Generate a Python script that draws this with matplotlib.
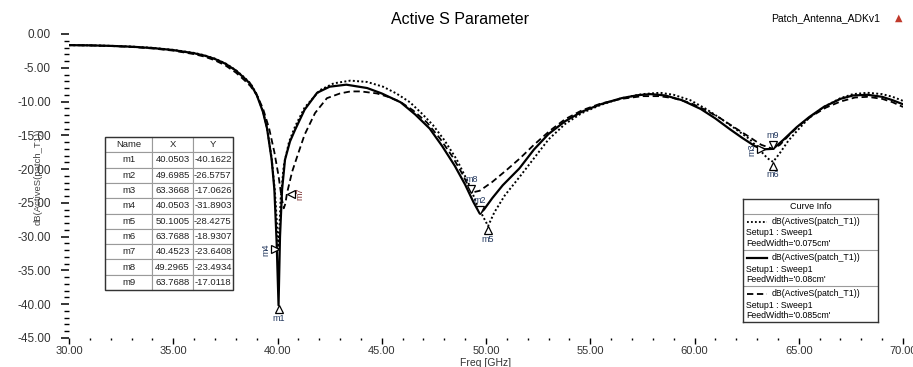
import matplotlib
matplotlib.use('Agg')
import matplotlib.pyplot as plt
from matplotlib.ticker import MultipleLocator, FuncFormatter
from matplotlib.transforms import ScaledTranslation

plt.rcParams['font.family'] = ['Liberation Sans', 'DejaVu Sans']

# dB(ActiveS(patch_T1)) sweeps, one per feed width
freq_075 = [30.0, 31.0, 32.0, 33.0, 34.0, 35.0, 36.0, 36.5, 37.0, 37.5, 38.0, 38.4, 38.7, 39.0,
            39.3, 39.5, 39.72, 39.88, 40.05, 40.15, 40.3, 40.55, 40.84, 41.3, 42.04, 42.7, 43.5,
            44.3, 45.06, 45.7, 46.35, 46.9, 47.46, 48.0, 48.6, 49.15, 49.6, 50.1, 50.4, 50.9,
            51.6, 52.3, 53.0, 53.8, 54.6, 55.5, 56.5, 57.5, 58.35, 59.0, 59.8, 60.5, 61.2, 61.9,
            62.66, 63.14, 63.5, 63.77, 64.1, 64.5, 64.9, 65.5, 66.2, 67.0, 67.6, 68.3, 69.0,
            69.5, 70.0]
db_075 = [-1.65, -1.68, -1.75, -1.86, -2.05, -2.35, -2.8, -3.15, -3.65, -4.35, -5.35, -6.4,
          -7.3, -8.9, -11.4, -13.9, -18.4, -23.5, -31.89, -24.5, -19.5, -16.0, -13.7, -10.9,
          -8.3, -7.3, -6.9, -7.1, -7.8, -8.8, -10.1, -11.7, -13.5, -15.7, -18.6, -22.0, -25.5,
          -28.43, -26.4, -23.9, -21.2, -18.4, -15.6, -13.3, -11.7, -10.5, -9.5, -8.9, -8.7,
          -9.0, -9.8, -11.0, -12.4, -13.9, -15.6, -17.2, -18.4, -18.93, -17.6, -15.8, -14.4,
          -12.4, -10.8, -9.5, -8.9, -8.7, -8.9, -9.3, -9.9]

freq_080 = [30.0, 31.0, 32.0, 33.0, 34.0, 35.0, 36.0, 36.5, 37.0, 37.5, 38.0, 38.4, 38.7, 39.0,
            39.3, 39.5, 39.72, 39.85, 39.96, 40.05, 40.12, 40.22, 40.36, 40.6, 40.84, 41.3,
            41.9, 42.5, 43.3, 44.3, 45.0, 45.9, 46.6, 47.3, 47.9, 48.5, 49.0, 49.4, 49.7, 49.9,
            50.3, 50.8, 51.6, 52.3, 53.0, 53.8, 54.6, 55.5, 56.5, 57.3, 57.9, 58.6, 59.4, 60.3,
            61.0, 61.7, 62.3, 62.9, 63.37, 63.77, 64.25, 64.9, 65.5, 66.2, 67.0, 67.6, 68.3,
            69.0, 69.5, 70.0]
db_080 = [-1.65, -1.68, -1.76, -1.88, -2.08, -2.38, -2.85, -3.2, -3.7, -4.4, -5.4, -6.5, -7.4,
          -9.0, -11.5, -14.0, -18.6, -23.0, -30.9, -40.16, -30.0, -23.0, -18.6, -15.9, -14.2,
          -11.2, -8.7, -7.8, -7.5, -8.0, -8.8, -10.1, -11.9, -14.0, -16.6, -19.5, -22.3, -24.9,
          -26.58, -26.0, -24.3, -22.4, -19.9, -17.1, -14.8, -12.9, -11.5, -10.4, -9.5, -9.05,
          -8.9, -9.1, -9.8, -11.1, -12.5, -14.1, -15.4, -16.6, -17.06, -17.0, -15.7, -13.8,
          -12.3, -10.8, -9.6, -9.1, -9.0, -9.3, -9.8, -10.4]

freq_085 = [30.0, 31.0, 32.0, 33.0, 34.0, 35.0, 36.0, 36.5, 37.0, 37.5, 38.0, 38.4, 38.7, 39.0,
            39.3, 39.6, 39.85, 40.05, 40.2, 40.3, 40.38, 40.45, 40.7, 40.98, 41.3, 41.8, 42.37,
            43.0, 43.5, 44.0, 44.77, 45.3, 45.87, 46.5, 47.17, 47.8, 48.4, 48.9, 49.3, 49.7,
            50.3, 51.0, 51.63, 52.3, 53.07, 53.8, 54.6, 55.5, 56.5, 57.5, 58.3, 59.0, 59.8,
            60.5, 61.2, 61.9, 62.66, 63.2, 63.77, 64.1, 64.5, 65.0, 65.6, 66.3, 67.0, 67.7,
            68.3, 69.0, 69.5, 70.0]
db_085 = [-1.65, -1.69, -1.78, -1.92, -2.14, -2.46, -2.98, -3.35, -3.9, -4.65, -5.7, -6.8,
          -7.7, -9.0, -11.0, -14.0, -17.5, -21.0, -24.3, -25.8, -25.1, -23.64, -20.4, -17.8,
          -14.9, -11.7, -9.5, -8.8, -8.5, -8.5, -8.8, -9.3, -10.0, -11.3, -13.1, -15.5, -18.2,
          -20.9, -23.49, -23.2, -21.9, -20.1, -18.4, -16.4, -14.3, -12.6, -11.3, -10.3, -9.6,
          -9.2, -9.2, -9.5, -10.2, -11.2, -12.4, -13.8, -15.3, -16.4, -17.01, -16.4, -15.1,
          -13.6, -12.2, -10.9, -10.0, -9.4, -9.3, -9.6, -10.1, -10.8]

feed_widths = ["0.075cm", "0.08cm", "0.085cm"]

# marker table
marker_names = ['m1', 'm2', 'm3', 'm4', 'm5', 'm6', 'm7', 'm8', 'm9']
marker_freq = [40.0503, 49.6985, 63.3668, 40.0503, 50.1005, 63.7688, 40.4523, 49.2965, 63.7688]
marker_db = [-40.1622, -26.5757, -17.0626, -31.8903, -28.4275, -18.9307, -23.6408, -23.4934, -17.0118]

# symbol, label offset direction and label rotation for each marker
marker_style = {
    'm1': ('^', 0, -1, 0), 'm2': ('v', 0, 1, 0), 'm3': ('>', -1, 0, 90),
    'm4': ('>', -1, 0, 90), 'm5': ('^', 0, -1, 0), 'm6': ('^', 0, -1, 0),
    'm7': ('<', 1, 0, 90), 'm8': ('v', 0, 1, 0), 'm9': ('v', 0, 1, 0),
}

W, H = 913, 367
fig = plt.figure(figsize=(W / 100, H / 100), dpi=100)

def px_box(x0, y0, x1, y1):
    return [x0 / W, 1 - y1 / H, (x1 - x0) / W, (y1 - y0) / H]

ax = fig.add_axes(px_box(69, 34, 903, 338))

ax.plot(freq_075, db_075, color='black', lw=1.4, linestyle=(0, (1, 1.2)))
ax.plot(freq_080, db_080, color='black', lw=1.6, linestyle='-')
ax.plot(freq_085, db_085, color='black', lw=1.3, linestyle=(0, (3.5, 2)))

ax.set_xlim(30, 70)
ax.set_ylim(-45, 0)
for s in ax.spines.values():
    s.set_visible(False)

ax.xaxis.set_major_locator(MultipleLocator(5))
ax.xaxis.set_minor_locator(MultipleLocator(1))
ax.yaxis.set_major_locator(MultipleLocator(5))
ax.yaxis.set_minor_locator(MultipleLocator(1))
fmt = FuncFormatter(lambda v, _: f"{0.0 if abs(v) < 1e-9 else v:.2f}")
ax.xaxis.set_major_formatter(fmt)
ax.yaxis.set_major_formatter(fmt)

ax.tick_params(axis='y', which='major', direction='out', length=6, width=1.1, pad=7,
               labelsize=8.5, labelcolor='#333333')
ax.tick_params(axis='y', which='minor', direction='out', length=3.5, width=1.0)
ax.tick_params(axis='x', which='major', direction='out', length=4, width=1.0, pad=2,
               labelsize=8, labelcolor='#333333')
ax.tick_params(axis='x', which='minor', direction='out', length=1.5, width=1.0)

ax.set_xlabel('Freq [GHz]', fontsize=7.5, color='#333333', labelpad=1)
ax.set_ylabel('dB(ActiveS(patch_T1))', fontsize=6.8, color='#444444')
ax.yaxis.set_label_coords(-0.032, 0.53)

# markers on the traces
for name, mx, my in zip(marker_names, marker_freq, marker_db):
    sym, ddx, ddy, rot = marker_style[name]
    off = ScaledTranslation(ddx * 4 / 100, ddy * 4 / 100, fig.dpi_scale_trans)
    ax.plot([mx], [my], marker=sym, ms=6, mfc='white', mec='black', mew=0.9,
            transform=ax.transData + off, zorder=5)
    color = '#7a2e2e' if name == 'm7' else '#23385e'
    ax.annotate(name, (mx, my), xytext=(ddx * 13, ddy * 13), textcoords='offset pixels',
                ha='center', va='center', fontsize=6.5, color=color, rotation=rot, zorder=6)

fig.text(460 / W, 1 - 19 / H, 'Active S Parameter', ha='center', va='center', fontsize=11.5)
fig.text(880 / W, 1 - 18 / H, 'Patch_Antenna_ADKv1', ha='right', va='center', fontsize=7.5)
fig.text(899 / W, 1 - 18 / H, '\u25b2', ha='center', va='center', fontsize=7,
         color='#c0392b', family='DejaVu Sans')

# marker table
tax = fig.add_axes(px_box(105, 137, 233, 290))
tax.axis('off')
rows = [[n, f"{x:.4f}", f"{y:.4f}"] for n, x, y in zip(marker_names, marker_freq, marker_db)]
tbl = tax.table(cellText=rows, colLabels=['Name', 'X', 'Y'], cellLoc='center',
                colWidths=[0.37, 0.315, 0.315], bbox=[0, 0, 1, 1])
tbl.auto_set_font_size(False)
tbl.set_fontsize(6.8)
for cell in tbl.get_celld().values():
    cell.set_edgecolor('#9a9a9a')
    cell.set_linewidth(0.8)
    cell.get_text().set_color('#222222')
tax.add_patch(plt.Rectangle((0, 0), 1, 1, transform=tax.transAxes, fill=False,
                            edgecolor='#333333', lw=1.0, clip_on=False, zorder=10))

# curve info box
lax = fig.add_axes(px_box(743, 199, 878, 322))
lax.set_xlim(0, 135)
lax.set_ylim(123, 0)
lax.set_xticks([])
lax.set_yticks([])
for s in lax.spines.values():
    s.set_color('#333333')
    s.set_linewidth(1.0)
lax.text(67.5, 7.5, 'Curve Info', ha='center', va='center', fontsize=6.5)
styles = [dict(lw=1.3, linestyle=(0, (1, 1.2))), dict(lw=1.6, linestyle='-'),
          dict(lw=1.3, linestyle=(0, (3.5, 2)))]
for i, (fw, st) in enumerate(zip(feed_widths, styles)):
    top = 15 + i * 36
    lax.axhline(top, color='#9a9a9a', lw=0.8)
    lax.plot([4, 24], [top + 8, top + 8], color='black', **st)
    lax.text(29, top + 8, 'dB(ActiveS(patch_T1))', va='center', fontsize=6.3)
    lax.text(3, top + 19, 'Setup1 : Sweep1', va='center', fontsize=6.3)
    lax.text(3, top + 29.5, f"FeedWidth='{fw}'", va='center', fontsize=6.3)

fig.savefig('out.png', dpi=100)
